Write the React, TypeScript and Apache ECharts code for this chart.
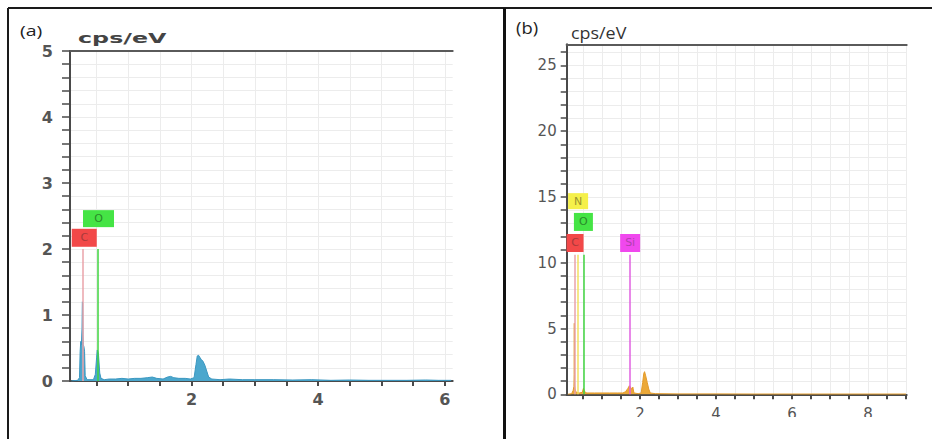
import React, { useEffect, useRef } from "react";
import * as echarts from "echarts";

// ---------- Panel (a) spectrum ----------
const aEnergy = [0.1, 0.2, 0.23, 0.24, 0.25, 0.26, 0.27, 0.275, 0.28, 0.285, 0.29, 0.3, 0.31, 0.32, 0.35, 0.45, 0.48, 0.5, 0.51, 0.52, 0.53, 0.55, 0.57, 0.62, 0.7, 0.8, 0.9, 1.0, 1.1, 1.2, 1.3, 1.38, 1.45, 1.55, 1.62, 1.67, 1.72, 1.8, 1.9, 1.98, 2.04, 2.07, 2.09, 2.11, 2.13, 2.15, 2.18, 2.21, 2.24, 2.27, 2.32, 2.45, 2.6, 2.8, 3.0, 3.3, 3.6, 3.9, 4.2, 4.5, 4.8, 5.1, 5.4, 5.7, 5.9, 6.1];
const aCounts = [0.0, 0.01, 0.05, 0.45, 0.6, 0.55, 0.8, 1.2, 1.18, 0.7, 0.55, 0.52, 0.45, 0.08, 0.02, 0.02, 0.1, 0.35, 0.47, 0.45, 0.4, 0.12, 0.04, 0.02, 0.03, 0.03, 0.04, 0.03, 0.04, 0.04, 0.05, 0.06, 0.04, 0.03, 0.06, 0.07, 0.05, 0.04, 0.04, 0.03, 0.05, 0.25, 0.38, 0.39, 0.36, 0.33, 0.3, 0.24, 0.15, 0.06, 0.03, 0.02, 0.03, 0.02, 0.02, 0.02, 0.015, 0.02, 0.01, 0.015, 0.01, 0.01, 0.01, 0.015, 0.01, 0.01];
const aElements = ["C", "O"];
const aElementEnergy = [0.28, 0.525];
const aMarkerTop = 2.0;
const aLabelEnergy = [0.305, 0.53];
const aLabelHeight = [2.17, 2.46];
const aXTicks = [0.5, 1, 1.5, 2, 2.5, 3, 3.5, 4, 4.5, 5, 5.5, 6];
const aXLabels = [2, 4, 6];
const aYTicks = [0, 0.2, 0.4, 0.6, 0.8, 1, 1.2, 1.4, 1.6, 1.8, 2, 2.2, 2.4, 2.6, 2.8, 3, 3.2, 3.4, 3.6, 3.8, 4, 4.2, 4.4, 4.6, 4.8, 5];
const aYLabels = [0, 1, 2, 3, 4, 5];

// ---------- Panel (b) spectrum ----------
const bEnergy = [0.1, 0.2, 0.24, 0.26, 0.268, 0.27, 0.272, 0.275, 0.29, 0.32, 0.4, 0.48, 0.51, 0.54, 0.6, 0.8, 1.0, 1.2, 1.4, 1.55, 1.62, 1.68, 1.72, 1.76, 1.79, 1.81, 1.84, 1.95, 2.03, 2.07, 2.1, 2.12, 2.15, 2.19, 2.23, 2.27, 2.4, 3.0, 4.0, 5.0, 6.0, 7.0, 8.0, 9.0];
const bCounts = [0.0, 0.05, 0.3, 0.6, 1.5, 5.4, 1.5, 0.7, 0.4, 0.15, 0.1, 0.15, 0.45, 0.2, 0.1, 0.1, 0.1, 0.1, 0.1, 0.1, 0.2, 0.45, 0.65, 0.5, 0.35, 0.55, 0.1, 0.05, 0.1, 0.9, 1.6, 1.72, 1.4, 0.9, 0.4, 0.1, 0.05, 0.03, 0.03, 0.02, 0.02, 0.02, 0.02, 0.02];
const bElements = ["C", "N", "O", "Si"];
const bElementEnergy = [0.27, 0.37, 0.51, 1.74];
const bMarkerTop = 10.6;
const bLabelEnergy = [0.29, 0.37, 0.51, 1.74];
const bLabelHeight = [11.5, 14.68, 13.1, 11.5];
const bXTicks = [0.5, 1, 1.5, 2, 2.5, 3, 3.5, 4, 4.5, 5, 5.5, 6, 6.5, 7, 7.5, 8, 8.5, 9];
const bXLabels = [2, 4, 6, 8];
const bYTicks = [0, 1, 2, 3, 4, 5, 6, 7, 8, 9, 10, 11, 12, 13, 14, 15, 16, 17, 18, 19, 20, 21, 22, 23, 24, 25, 26];
const bYLabels = [0, 5, 10, 15, 20, 25];

const elementColors: Record<string, { box: string; line: string; text: string }> = {
  C: { box: "#f24848", line: "#eaa3aa", text: "#a83a3a" },
  O: { box: "#45e445", line: "#3fd53f", text: "#2a8a2a" },
  N: { box: "#f5f04a", line: "#f2e060", text: "#9a9430" },
  Si: { box: "#f048ee", line: "#e060e0", text: "#b040b0" },
};

const gridColor = "#ececec";
const axisColor = "#4a4a4a";

function bottomX(gridIndex: number, min: number, max: number, ticks: number[], labels: number[], bold: boolean, fontSize: number, margin: number) {
  return {
    type: "value",
    gridIndex,
    position: "bottom",
    min,
    max,
    axisLine: { show: true, onZero: false, lineStyle: { color: axisColor, width: 2 } },
    axisTick: { show: true, inside: false, length: 5, customValues: ticks, lineStyle: { color: axisColor, width: 2 } },
    axisLabel: {
      show: true,
      customValues: labels,
      margin,
      color: "#555",
      fontSize,
      fontWeight: bold ? "bold" : "normal",
      fontFamily: "DejaVu Sans",
    },
    splitLine: { show: true, lineStyle: { color: gridColor, width: 1 } },
  };
}

function topX(gridIndex: number, min: number, max: number) {
  return {
    type: "value",
    gridIndex,
    position: "top",
    min,
    max,
    axisLine: { show: true, onZero: false, lineStyle: { color: "#5a5a5a", width: 2 } },
    axisTick: { show: false },
    axisLabel: { show: false },
    splitLine: { show: false },
  };
}

function leftY(gridIndex: number, max: number, ticks: number[], labels: number[], bold: boolean, fontSize: number, margin: number, tickLen: number) {
  return {
    type: "value",
    gridIndex,
    min: 0,
    max,
    axisLine: { show: true, onZero: false, lineStyle: { color: axisColor, width: 2 } },
    axisTick: { show: true, length: tickLen, customValues: ticks, lineStyle: { color: axisColor, width: 1.5 } },
    axisLabel: {
      show: true,
      customValues: labels,
      margin,
      color: "#555",
      fontSize,
      fontWeight: bold ? "bold" : "normal",
      fontFamily: "DejaVu Sans",
    },
    splitLine: { show: true, lineStyle: { color: gridColor, width: 1 } },
  };
}

function spectrumSeries(xAxisIndex: number, yAxisIndex: number, energy: number[], counts: number[], lineColor: string, fillColor: string, elements: string[], elementEnergy: number[], markerTop: number) {
  return {
    type: "line",
    xAxisIndex,
    yAxisIndex,
    data: energy.map((e, i) => [e, counts[i]]),
    showSymbol: false,
    symbol: "none",
    silent: true,
    z: 3,
    lineStyle: { color: lineColor, width: 1 },
    areaStyle: { color: fillColor, opacity: 1 },
    markLine: {
      silent: true,
      symbol: "none",
      label: { show: false },
      animation: false,
      data: elements.map((el, i) => [
        { coord: [elementEnergy[i], 0], lineStyle: { color: elementColors[el].line, width: 1.5, type: "solid" } },
        { coord: [elementEnergy[i], markerTop] },
      ]),
    },
  };
}

function labelSeries(xAxisIndex: number, yAxisIndex: number, elements: string[], xs: number[], ys: number[], sizes: number[][], fontSize: number) {
  return {
    type: "scatter",
    xAxisIndex,
    yAxisIndex,
    silent: true,
    z: 5,
    symbol: "rect",
    data: elements.map((el, i) => ({
      name: el,
      value: [xs[i], ys[i]],
      symbolSize: sizes[i],
      itemStyle: { color: elementColors[el].box, opacity: 1 },
      label: {
        show: true,
        position: "inside",
        formatter: "{b}",
        color: elementColors[el].text,
        fontSize,
        fontFamily: "DejaVu Sans",
      },
    })),
  };
}

export default function App() {
  const ref = useRef<HTMLDivElement>(null);

  useEffect(() => {
    if (!ref.current) return;
    const chart = echarts.init(ref.current, null, { renderer: "svg" });

    const option: any = {
      animation: false,
      backgroundColor: "#ffffff",
      grid: [
        { left: 70, top: 51, right: 479.3, bottom: 58, containLabel: false },
        { left: 566.7, top: 44.3, right: 25.3, bottom: 44.7, containLabel: false },
      ],
      xAxis: [
        bottomX(0, 0.08, 6.125, aXTicks, aXLabels, true, 16, 10),
        topX(0, 0.08, 6.125),
        bottomX(1, 0.07, 9.02, bXTicks, bXLabels, false, 15, 12),
        topX(1, 0.07, 9.02),
      ],
      yAxis: [
        leftY(0, 5, aYTicks, aYLabels, true, 16, 17, 8),
        leftY(1, 26.6, bYTicks, bYLabels, false, 15, 10, 6),
      ],
      series: [
        spectrumSeries(0, 0, aEnergy, aCounts, "#3b97c0", "#4ba7cd", aElements, aElementEnergy, aMarkerTop),
        labelSeries(0, 0, aElements, aLabelEnergy, aLabelHeight, [[25, 18], [31, 17]], 11),
        spectrumSeries(2, 1, bEnergy, bCounts, "#e39a2a", "#eba838", bElements, bElementEnergy, bMarkerTop),
        labelSeries(2, 1, bElements, bLabelEnergy, bLabelHeight, [[17, 18], [20, 16], [19, 18], [20, 18]], 11),
      ],
      graphic: [
        // outer frame
        { type: "line", z: 100, shape: { x1: 8, y1: 8, x2: 932, y2: 8 }, style: { stroke: "#1a1a1a", lineWidth: 2 } },
        { type: "line", z: 100, shape: { x1: 8, y1: 8, x2: 8, y2: 439 }, style: { stroke: "#1a1a1a", lineWidth: 2 } },
        { type: "line", z: 100, shape: { x1: 504.5, y1: 8, x2: 504.5, y2: 439 }, style: { stroke: "#111", lineWidth: 3 } },
        // crop of panel (b) bottom labels
        { type: "rect", z: 90, shape: { x: 507, y: 417, width: 425, height: 22 }, style: { fill: "#ffffff" } },
        // panel titles
        { type: "text", z: 100, x: 20, y: 22, scaleX: 1.3, style: { text: "(a)", fontSize: 15, fontFamily: "Open Sans", fill: "#222" } },
        { type: "text", z: 100, x: 516, y: 20, scaleX: 1.15, style: { text: "(b)", fontSize: 16, fontFamily: "Open Sans", fill: "#222" } },
        // y-axis unit names
        { type: "text", z: 100, x: 78, y: 31, scaleX: 1.7, style: { text: "cps/eV", fontSize: 14, fontWeight: "bold", fontFamily: "DejaVu Sans", fill: "#444" } },
        { type: "text", z: 100, x: 571, y: 25, scaleX: 1.12, style: { text: "cps/eV", fontSize: 16, fontFamily: "Open Sans", fill: "#333" } },
      ],
    };

    chart.setOption(option);
    return () => chart.dispose();
  }, []);

  return (
    <div
      ref={ref}
      style={{ position: "absolute", left: 0, top: 0, width: 932, height: 439, background: "#fff" }}
    />
  );
}
